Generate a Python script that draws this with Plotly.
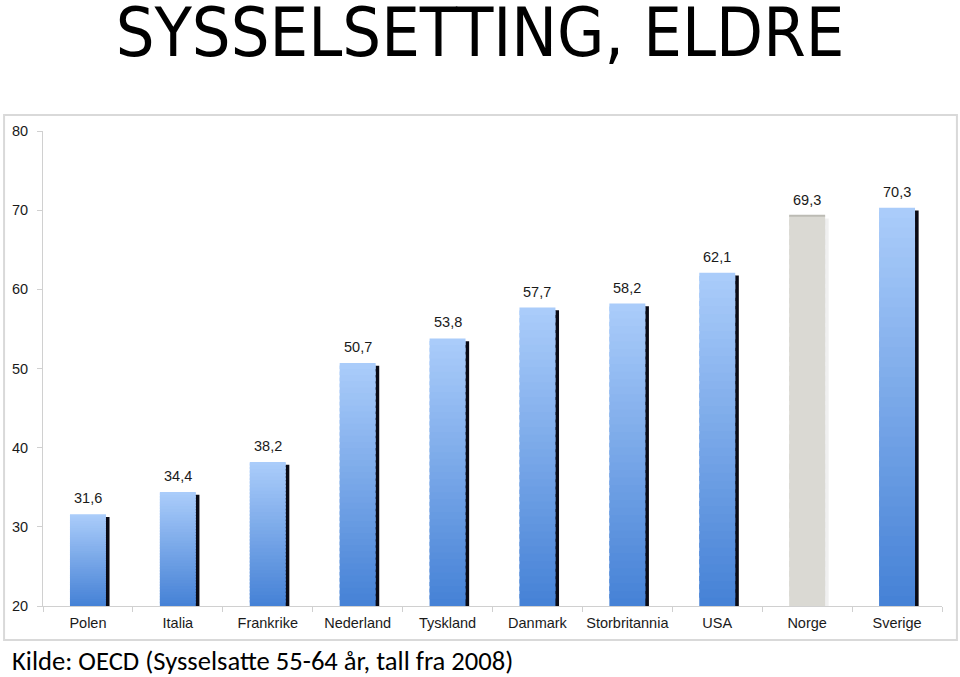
import plotly.graph_objects as go

categories = ["Polen", "Italia", "Frankrike", "Nederland", "Tyskland", "Danmark",
              "Storbritannia", "USA", "Norge", "Sverige"]
values = [31.6, 34.4, 38.2, 50.7, 53.8, 57.7, 58.2, 62.1, 69.3, 70.3]
labels = ["31,6", "34,4", "38,2", "50,7", "53,8", "57,7", "58,2", "62,1", "69,3", "70,3"]
highlight = "Norge"
y_ticks = [20, 30, 40, 50, 60, 70, 80]

BASE = 20
N = 40
top_rgb = (170, 204, 250)
bot_rgb = (70, 130, 214)
grey_rgb = (218, 217, 211)
SANS = "Liberation Sans, Arial, sans-serif"

def mix(a, b, t):
    return "rgb(%d,%d,%d)" % tuple(round(a[i] + (b[i] - a[i]) * t) for i in range(3))

fig = go.Figure()

# shadow
shadow_colors = ["rgba(0,0,0,0.06)" if c == highlight else "#0a0a14" for c in categories]
fig.add_trace(go.Bar(
    x=categories, y=[v - BASE - 0.35 for v in values], base=BASE,
    width=0.4, offset=-0.16, marker=dict(color=shadow_colors, line=dict(width=0)),
    hoverinfo="skip", showlegend=False))

# gradient bars built from stacked segments
for k in range(N):
    t = k / (N - 1)
    heights = [(v - BASE) / N for v in values]
    bases = [BASE + k * h for h in heights]
    ys = [h * (1.6 if k < N - 1 else 1.0) for h in heights]
    cols = [mix(grey_rgb, grey_rgb, 0) if c == highlight else mix(bot_rgb, top_rgb, t)
            for c in categories]
    fig.add_trace(go.Bar(
        x=categories, y=ys, base=bases, width=0.4, offset=-0.2,
        marker=dict(color=cols, line=dict(width=0)),
        hoverinfo="skip", showlegend=False))

for c, v, lab in zip(categories, values, labels):
    fig.add_annotation(x=c, y=v, text=lab, showarrow=False, yshift=16,
                       yanchor="middle",
                       font=dict(family=SANS, size=14.5, color="#1a1a1a"))

idx = categories.index(highlight)
fig.add_shape(type="line", xref="x", yref="y",
              x0=idx - 0.2, x1=idx + 0.2, y0=values[idx], y1=values[idx],
              line=dict(color="#bcbbb4", width=2))

# chart border
fig.add_shape(type="rect", xref="paper", yref="paper",
              x0=-0.0433, x1=1.0166, y0=-0.0716, y1=1.0337,
              line=dict(color="#d9d9d9", width=2), layer="below")

fig.add_annotation(xref="paper", yref="paper", x=-0.0366, y=-0.116,
                   xanchor="left", yanchor="middle", showarrow=False,
                   text="Kilde: OECD (Sysselsatte 55-64 år, tall fra 2008)",
                   font=dict(family="Carlito, Calibri, Lato, sans-serif", size=26.6, color="#000"))

fig.update_layout(
    width=960, height=677,
    margin=dict(l=41, r=18, t=131, b=71),
    paper_bgcolor="white", plot_bgcolor="white",
    barmode="overlay", bargap=0.6,
    title=dict(text="SYSSELSETTING, ELDRE", x=0.5, xanchor="center",
               xref="container", yref="container", y=1 - 32 / 677, yanchor="middle",
               font=dict(family="DejaVu Sans Condensed, DejaVu Sans, sans-serif",
                         size=68, color="#000")),
    xaxis=dict(type="category", range=[-0.5, 9.5], showline=True, linecolor="#d0d0d0",
               linewidth=1, ticks="outside", tickson="boundaries", ticklen=5,
               tickcolor="#d0d0d0", showgrid=False, zeroline=False, tickangle=0,
               ticklabelstandoff=4,
               tickfont=dict(family=SANS, size=14.5, color="#1a1a1a")),
    yaxis=dict(range=[20, 80], tickvals=y_ticks, showline=True, linecolor="#d0d0d0",
               linewidth=1, ticks="outside", ticklen=5, tickcolor="#d0d0d0",
               showgrid=False, zeroline=False, ticklabelstandoff=6,
               tickfont=dict(family=SANS, size=14.5, color="#1a1a1a")),
)

fig.write_html("out.html", config={"displayModeBar": False},
               post_script="document.body.style.margin='0';document.body.style.overflow='hidden';")
